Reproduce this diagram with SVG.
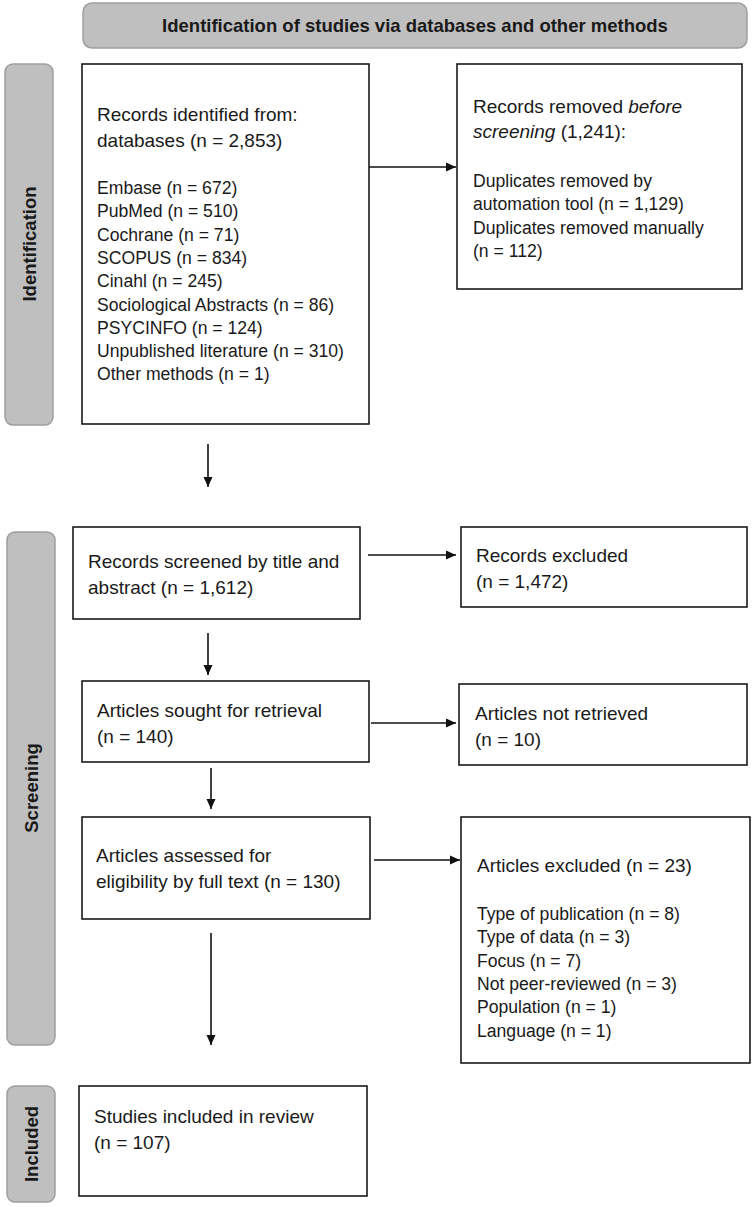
<svg xmlns="http://www.w3.org/2000/svg" width="753" height="1207" viewBox="0 0 753 1207">
<style>
text{font-family:"Liberation Sans",Arial,sans-serif;fill:#1a1a1a}
.t{font-size:19px}
.s{font-size:17.6px}
.h{font-size:18.5px;font-weight:bold;text-anchor:middle}
.v{font-size:18.5px;font-weight:bold;text-anchor:middle}
.box{fill:#fff;stroke:#1a1a1a;stroke-width:1.6}
.bar{fill:#bfbfbf;stroke:#9e9e9e;stroke-width:1.5}
.ln{stroke:#111;stroke-width:1.6;fill:none;marker-end:url(#ah)}
</style>
<defs>
<marker id="ah" viewBox="0 0 10 10" refX="10" refY="5" markerWidth="10" markerHeight="10" markerUnits="userSpaceOnUse" orient="auto">
<path d="M0,0.5 L10,5 L0,9.5 Z" fill="#111"/>
</marker>
</defs>
<rect width="753" height="1207" fill="#fff"/>

<g id="header">
<rect class="bar" x="83" y="3" width="664" height="45" rx="9"/>
<text class="h" x="415" y="32">Identification of studies via databases and other methods</text>
</g>

<g id="bar-identification">
<rect class="bar" x="5" y="64" width="48" height="361" rx="8"/>
<text class="v" transform="translate(35.5,244) rotate(-90)">Identification</text>
</g>
<g id="bar-screening">
<rect class="bar" x="7" y="532" width="48" height="513" rx="8"/>
<text class="v" transform="translate(37.5,788) rotate(-90)">Screening</text>
</g>
<g id="bar-included">
<rect class="bar" x="7" y="1086" width="48" height="116" rx="8"/>
<text class="v" transform="translate(37.5,1144) rotate(-90)">Included</text>
</g>

<g id="records-identified">
<rect class="box" x="82" y="64" width="287" height="360"/>
<text class="t" x="97" y="121">Records identified from:</text>
<text class="t" x="97" y="147">databases (n = 2,853)</text>
<text class="s" x="97" y="194">Embase (n = 672)</text>
<text class="s" x="97" y="217.3">PubMed (n = 510)</text>
<text class="s" x="97" y="240.6">Cochrane (n = 71)</text>
<text class="s" x="97" y="263.9">SCOPUS (n = 834)</text>
<text class="s" x="97" y="287.2">Cinahl (n = 245)</text>
<text class="s" x="97" y="310.5">Sociological Abstracts (n = 86)</text>
<text class="s" x="97" y="333.8">PSYCINFO (n = 124)</text>
<text class="s" x="97" y="357.1">Unpublished literature (n = 310)</text>
<text class="s" x="97" y="380.4">Other methods (n = 1)</text>
</g>

<g id="records-removed">
<rect class="box" x="457" y="64" width="285" height="225"/>
<text class="t" x="473" y="113">Records removed <tspan font-style="italic">before</tspan></text>
<text class="t" x="473" y="138"><tspan font-style="italic">screening</tspan> (1,241):</text>
<text class="s" x="473" y="187">Duplicates removed by</text>
<text class="s" x="473" y="210.3">automation tool (n = 1,129)</text>
<text class="s" x="473" y="233.6">Duplicates removed manually</text>
<text class="s" x="473" y="256.9">(n = 112)</text>
</g>

<g id="records-screened">
<rect class="box" x="73" y="527" width="287" height="92"/>
<text class="t" x="88" y="568">Records screened by title and</text>
<text class="t" x="88" y="594">abstract (n = 1,612)</text>
</g>

<g id="records-excluded">
<rect class="box" x="461" y="527" width="286" height="80"/>
<text class="t" x="476" y="562">Records excluded</text>
<text class="t" x="476" y="588">(n = 1,472)</text>
</g>

<g id="articles-sought">
<rect class="box" x="82" y="681" width="287" height="81"/>
<text class="t" x="97" y="717">Articles sought for retrieval</text>
<text class="t" x="97" y="743">(n = 140)</text>
</g>

<g id="articles-not-retrieved">
<rect class="box" x="459" y="684" width="288" height="81"/>
<text class="t" x="475" y="720">Articles not retrieved</text>
<text class="t" x="475" y="746">(n = 10)</text>
</g>

<g id="articles-assessed">
<rect class="box" x="82" y="817" width="288" height="102"/>
<text class="t" x="96" y="862">Articles assessed for</text>
<text class="t" x="96" y="888">eligibility by full text (n = 130)</text>
</g>

<g id="articles-excluded">
<rect class="box" x="461" y="817" width="289" height="246"/>
<text class="t" x="477" y="872">Articles excluded (n = 23)</text>
<text class="s" x="477" y="920">Type of publication (n = 8)</text>
<text class="s" x="477" y="943.3">Type of data (n = 3)</text>
<text class="s" x="477" y="966.6">Focus (n = 7)</text>
<text class="s" x="477" y="989.9">Not peer-reviewed (n = 3)</text>
<text class="s" x="477" y="1013.2">Population (n = 1)</text>
<text class="s" x="477" y="1036.5">Language (n = 1)</text>
</g>

<g id="studies-included">
<rect class="box" x="79" y="1086" width="288" height="110"/>
<text class="t" x="94" y="1123">Studies included in review</text>
<text class="t" x="94" y="1149">(n = 107)</text>
</g>

<g id="connectors">
<line class="ln" x1="369" y1="167" x2="456" y2="167"/>
<line class="ln" x1="208" y1="444" x2="208" y2="487"/>
<line class="ln" x1="368" y1="555" x2="456" y2="555"/>
<line class="ln" x1="208" y1="633" x2="208" y2="675"/>
<line class="ln" x1="371" y1="723" x2="456" y2="723"/>
<line class="ln" x1="211" y1="768" x2="211" y2="809"/>
<line class="ln" x1="374" y1="860" x2="460" y2="860"/>
<line class="ln" x1="211" y1="933" x2="211" y2="1045"/>
</g>
</svg>
